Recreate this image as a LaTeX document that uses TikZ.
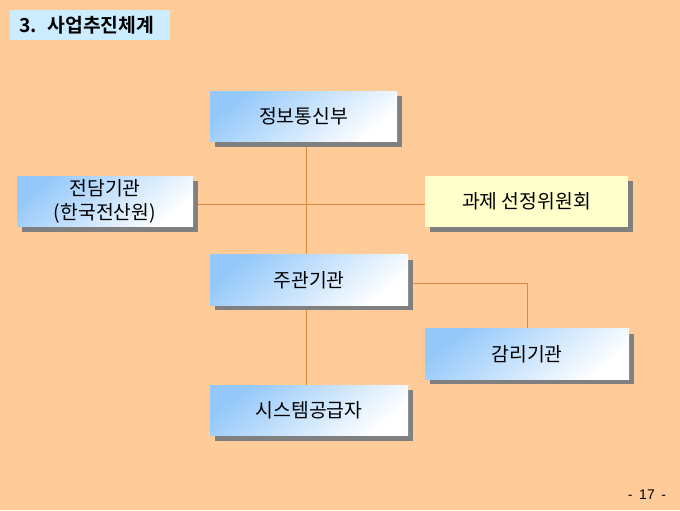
\documentclass[tikz,border=0pt]{standalone}
\usepackage{fontspec}
\usepackage{tikz}
\usetikzlibrary{shadows,backgrounds}
\setmainfont{Noto Sans CJK KR}
\newfontfamily\titlefont{Noto Sans CJK KR Bold}
\newfontfamily\numfont{Liberation Sans}
\definecolor{peach}{HTML}{FFCC99}
\definecolor{titleblue}{HTML}{CCECFF}
\definecolor{skyblue}{HTML}{94C8FA}
\definecolor{paleyellow}{HTML}{FFFFCC}
\definecolor{shadowgray}{HTML}{808080}
\definecolor{linkorange}{HTML}{E08838}
\begin{document}
\begin{tikzpicture}[x=0.75pt,y=-0.75pt,
  box/.style={inner sep=0pt,minimum height=38pt,align=center,
    font=\fontsize{14.5}{17.5}\selectfont,
    drop shadow={shadow xshift=3.75pt,shadow yshift=-3.75pt,fill=shadowgray,opacity=1}},
  bluebox/.style={box,top color=skyblue,bottom color=white,shading angle=40},
  link/.style={linkorange,line width=0.75pt}]
\useasboundingbox (0,0) rectangle (680,510);
\node[fill=titleblue,anchor=north west,inner xsep=6.75pt,inner ysep=0pt,text width=106.5pt,minimum height=22.5pt,align=left,font=\titlefont\fontsize{14.5}{16}\selectfont] (ttl) at (10,10) {3.\hspace{8pt}사업추진체계};
\node[bluebox,minimum width=140.25pt] (jb) at (303.5,116.5) {정보통신부};
\node[bluebox,minimum width=132pt] (jd) at (105,201.5) {전담기관\\(한국전산원)};
\node[box,fill=paleyellow,minimum width=152.25pt] (gj) at (526.5,201.5) {과제 선정위원회};
\node[bluebox,minimum width=148.5pt] (jg) at (309,280) {주관기관};
\node[bluebox,minimum width=153pt] (gr) at (527,354) {감리기관};
\node[bluebox,minimum width=148.5pt] (sg) at (309,410.5) {시스템공급자};
\node[font=\numfont\fontsize{10.5}{12}\selectfont] (pnum) at (647,495) {-\hspace{5pt}17\hspace{5pt}-};
\coordinate (mid) at (306.5,204.5);
\coordinate (bend) at (527.5,283.5);
\begin{pgfonlayer}{background}
\fill[peach] (0,0) rectangle (680,510);
\draw[link] (jb.south -| mid) -- (jg.north -| mid);
\draw[link] (jd.east |- mid) -- (gj.west |- mid);
\draw[link] (jg.south -| mid) -- (sg.north -| mid);
\draw[link] (jg.east |- bend) -- (bend) -- (gr.north -| bend);
\end{pgfonlayer}
\end{tikzpicture}
\end{document}
